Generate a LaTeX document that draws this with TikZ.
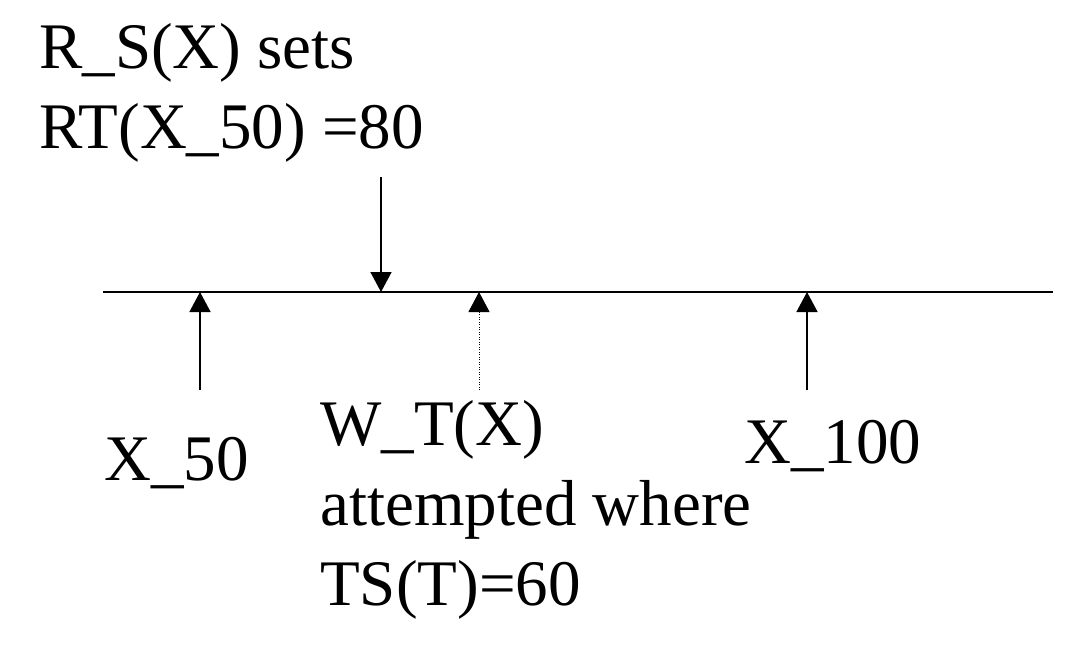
\documentclass[tikz,border=0pt]{standalone}
\usepackage{fontspec}
\setmainfont{Liberation Serif}
\usetikzlibrary{arrows.meta}
\begin{document}
\begin{tikzpicture}[x=1pt,y=-1pt,
  lbl/.style={anchor=base west,inner sep=0pt,font=\fontsize{65}{80}\selectfont},
  tick/.style={line width=1.5pt,-{Triangle[width=21pt,length=20pt]}},
  dtick/.style={line width=1pt,dash pattern=on 1pt off 1.5pt,-{Triangle[width=21pt,length=20pt]}},
  axisline/.style={line width=2pt}]
\useasboundingbox (0,0) rectangle (1092,648);
% axis
\coordinate (axL) at (103,292);
\coordinate (axR) at (1053,292);
\draw[axisline] (axL) -- (axR);
% points on axis
\coordinate (p50) at (200,292);
\coordinate (prd) at (381,292);
\coordinate (pw) at (479,292);
\coordinate (p100) at (807,292);
% free ends
\coordinate (s50) at (200,390);
\coordinate (srd) at (381,177);
\coordinate (sw) at (479,390);
\coordinate (s100) at (807,390);
\draw[tick] (s50) -- (p50);
\draw[tick] (srd) -- (prd);
\draw[dtick] (sw) -- (pw);
\draw[tick] (s100) -- (p100);
% labels
\node[lbl] (rs1) at (39,68) {R\_S(X) sets};
\node[lbl] (rs2) at (39,148) {RT(X\_50) =80};
\node[lbl] (x50) at (104,480) {X\_50};
\node[lbl] (wt1) at (320,445) {W\_T(X)};
\node[lbl] (wt2) at (320,525) {attempted where};
\node[lbl] (wt3) at (320,605) {TS(T)=60};
\node[lbl] (x100) at (744,463) {X\_100};
\end{tikzpicture}
\end{document}
